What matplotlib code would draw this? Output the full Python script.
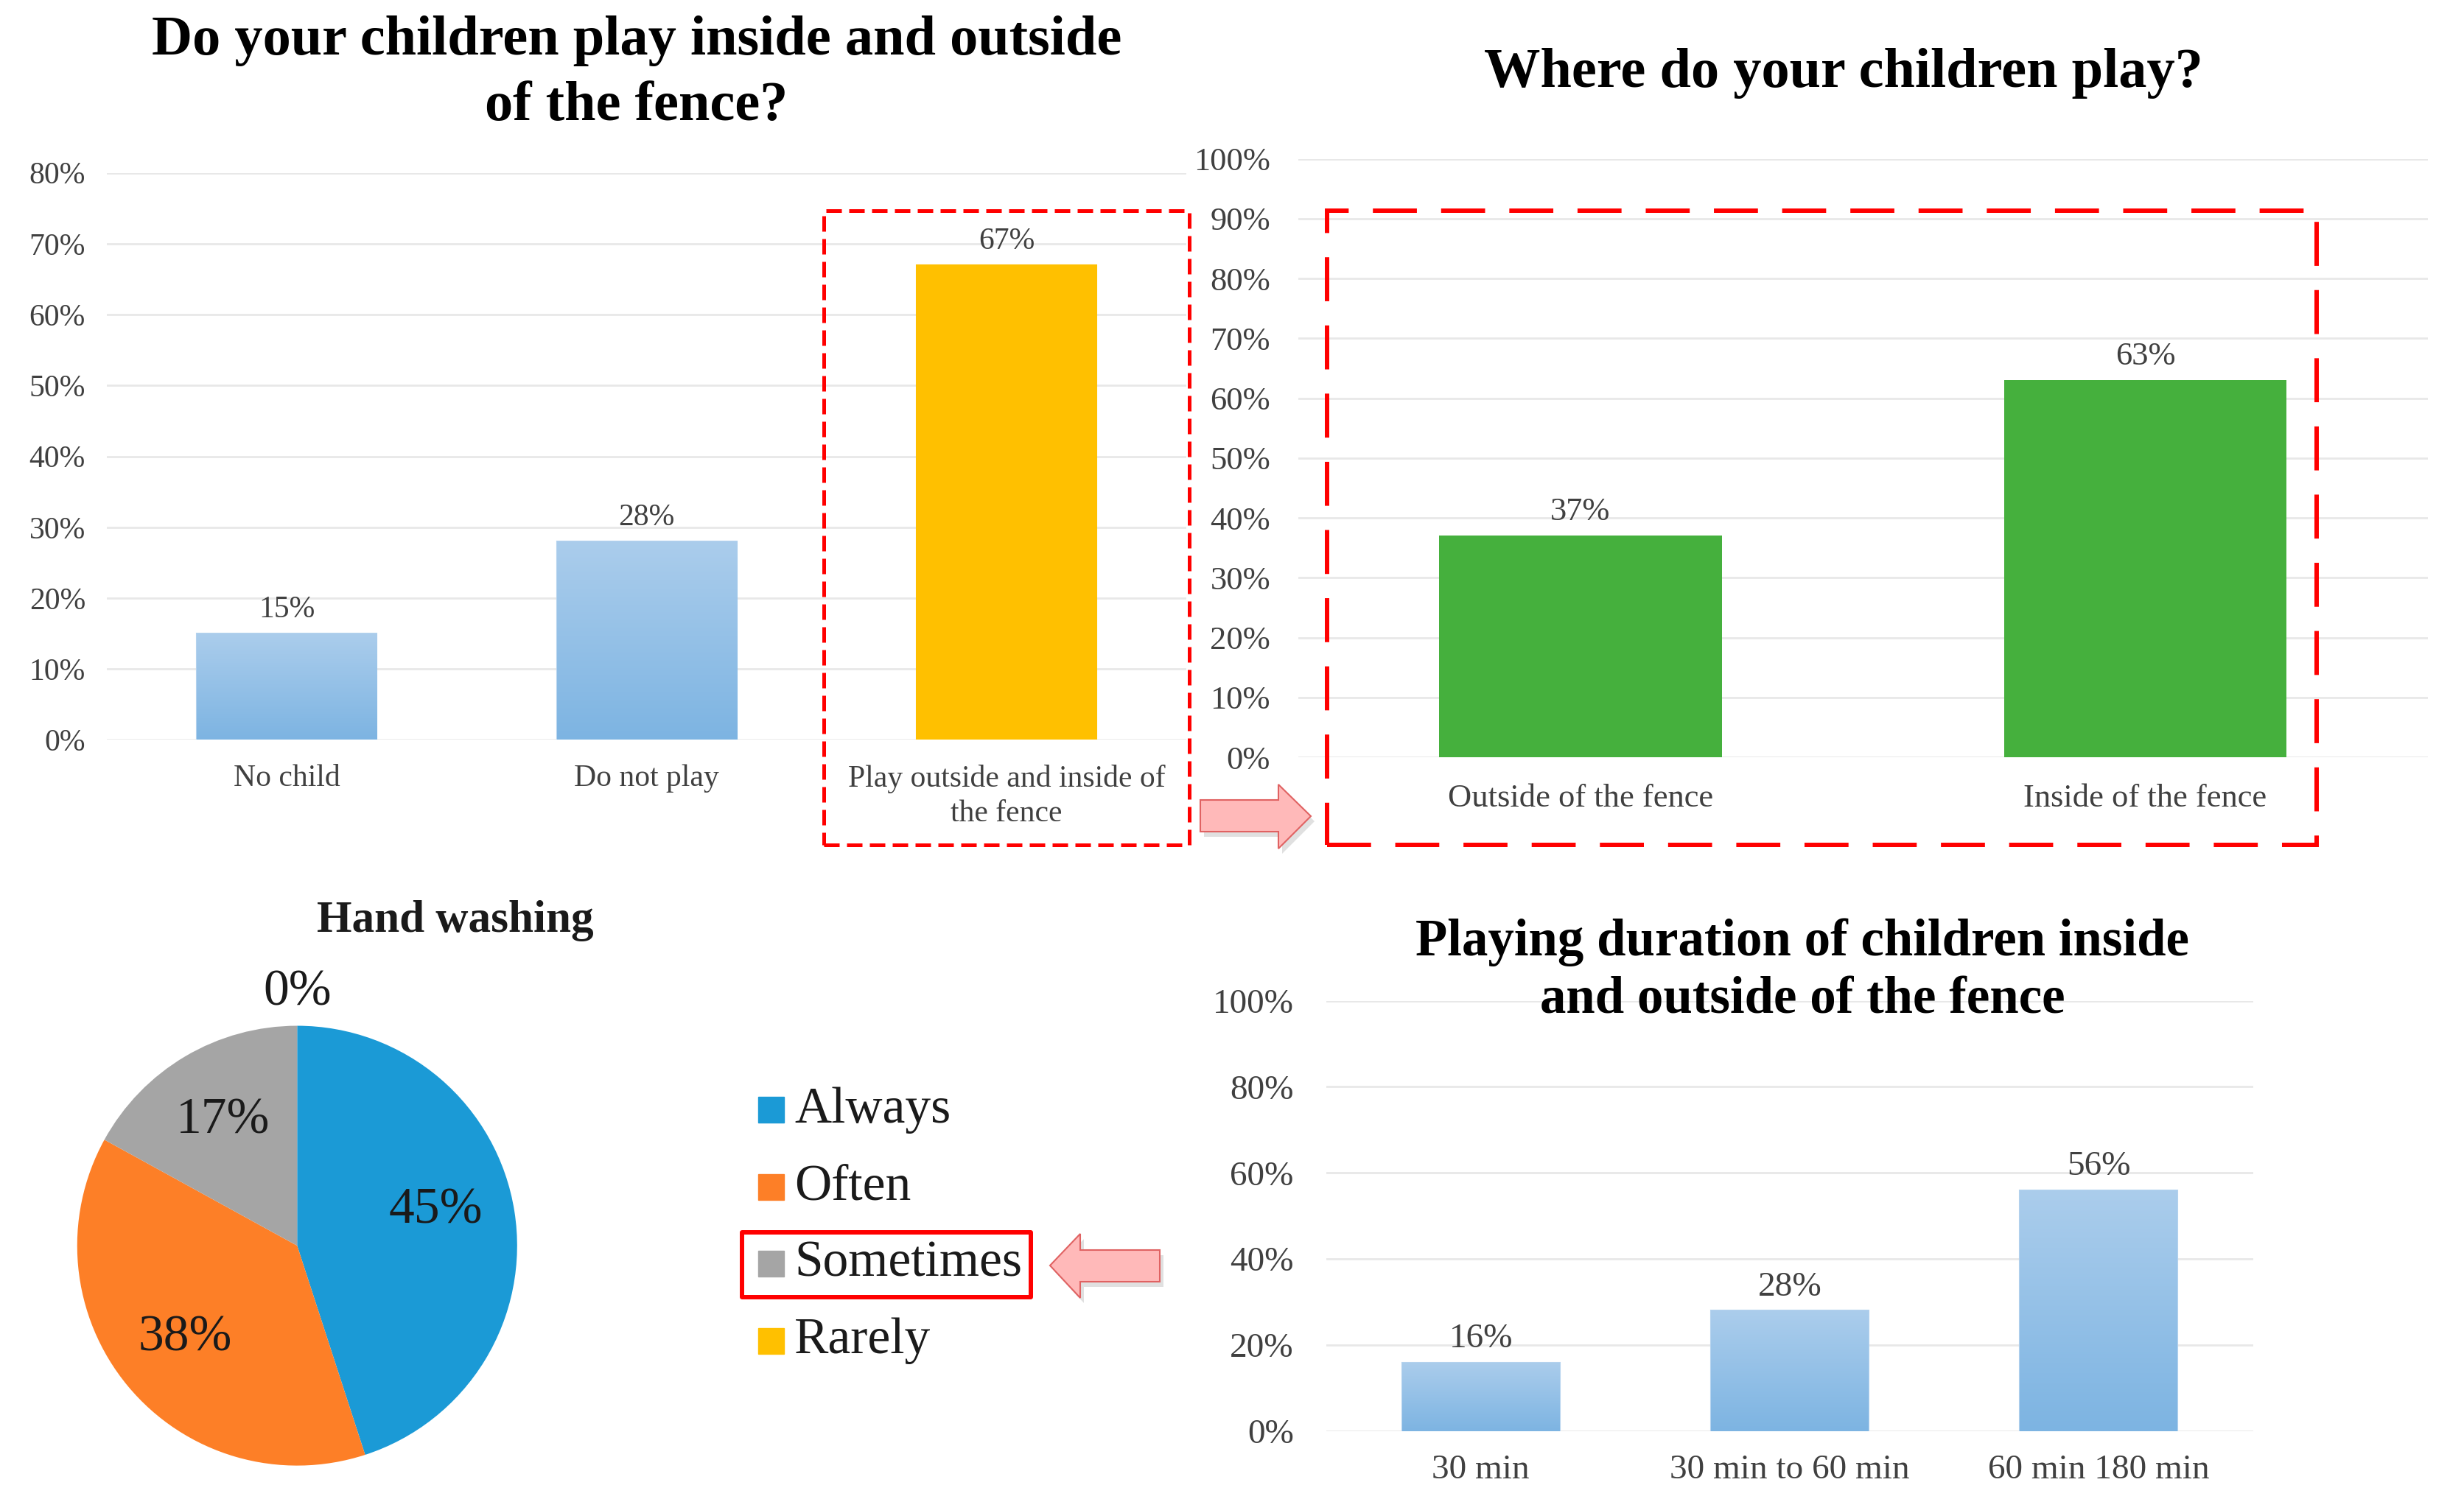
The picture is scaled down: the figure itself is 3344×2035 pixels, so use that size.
import numpy as np
import matplotlib.pyplot as plt
from matplotlib.patches import Rectangle, Polygon
from matplotlib.colors import LinearSegmentedColormap
from matplotlib.ticker import PercentFormatter

plt.rcParams['font.family'] = ['Liberation Serif', 'DejaVu Serif']

# data
fence_cats = ["No child", "Do not play", "Play outside and inside of\nthe fence"]
fence_vals = [15, 28, 67]
where_cats = ["Outside of the fence", "Inside of the fence"]
where_vals = [37, 63]
wash_labels = ["Always", "Often", "Sometimes", "Rarely"]
wash_vals = [45, 38, 17, 0]
dur_cats = ["30 min", "30 min to 60 min", "60 min 180 min"]
dur_vals = [16, 28, 56]

blue_grad = LinearSegmentedColormap.from_list('bg', ['#7db4e2', '#abcdec'])
wash_colors = ['#1b9ad6', '#fd7f27', '#a5a5a5', '#ffc000']

W, H = 3344, 2035
fig = plt.figure(figsize=(W / 100, H / 100), dpi=100)


def fx(px):
    return px / W


def fy(py):
    return 1 - py / H


def style(ax, ymax, step, fs, ypad, xpad):
    ax.set_ylim(0, ymax)
    ax.set_yticks(np.arange(0, ymax + 1, step))
    ax.yaxis.set_major_formatter(PercentFormatter(decimals=0))
    ax.grid(axis='y', color='#e8e8e8', lw=2)
    ax.set_axisbelow(True)
    for s in ax.spines.values():
        s.set_visible(False)
    ax.tick_params(length=0, labelsize=fs, labelcolor='#404040')
    ax.tick_params(axis='y', pad=ypad)
    ax.tick_params(axis='x', pad=xpad)


def grad_bars(ax, bars):
    grad = np.linspace(0, 1, 256).reshape(-1, 1)
    for b in bars:
        x, y = b.get_x(), b.get_y()
        w, h = b.get_width(), b.get_height()
        im = ax.imshow(grad, extent=(x, x + w, y, y + h), origin='lower',
                       cmap=blue_grad, aspect='auto', zorder=2)
        im.set_clip_path(b)
        b.set_facecolor('none')


def labels(ax, bars, vals, fs, off):
    for b, v in zip(bars, vals):
        ax.annotate(f"{v}%", (b.get_x() + b.get_width() / 2, b.get_height()),
                    xytext=(0, off), textcoords='offset points',
                    ha='center', va='center', fontsize=fs, color='#404040')


# top left
ax1 = fig.add_axes([0.0434, 0.5064, 0.4381, 0.3783])
x1 = np.arange(len(fence_cats))
b1 = ax1.bar(x1, fence_vals, width=0.5, color=['#9dc3e6', '#9dc3e6', '#ffc000'],
             edgecolor=['#b4d2ee', '#b4d2ee', '#ffc000'], lw=1.5, zorder=2)
grad_bars(ax1, list(b1)[:2])
labels(ax1, b1, fence_vals, 30, 23)
ax1.set_xticks(x1, fence_cats, linespacing=1.3)
style(ax1, 80, 10, 30, 21, 24)
ax1.set_xlim(-0.5, 2.5)
fig.text(fx(864), fy(100), "Do your children play inside and outside\nof the fence?",
         ha='center', va='center', fontsize=55, fontweight='bold', linespacing=1.38)

# top right
ax2 = fig.add_axes([0.5268, 0.4948, 0.4585, 0.3993])
x2 = np.arange(len(where_cats))
b2 = ax2.bar(x2, where_vals, width=0.5, color='#45b03d', zorder=2)
labels(ax2, b2, where_vals, 32, 23)
ax2.set_xticks(x2, where_cats)
style(ax2, 100, 10, 32, 27, 26)
ax2.set_xlim(-0.5, 1.5)
fig.text(fx(2502), fy(100), "Where do your children play?",
         ha='center', va='center', fontsize=55, fontweight='bold')

# bottom right
ax4 = fig.add_axes([0.5383, 0.0452, 0.3762, 0.2872])
x4 = np.arange(len(dur_cats))
b4 = ax4.bar(x4, dur_vals, width=0.51, color='#9dc3e6', edgecolor='#b4d2ee', lw=1.5, zorder=2)
grad_bars(ax4, b4)
labels(ax4, b4, dur_vals, 34, 23)
ax4.set_xticks(x4, dur_cats)
style(ax4, 100, 20, 34, 32, 23)
ax4.set_xlim(-0.5, 2.5)
fig.text(fx(2446), fy(1318), "Playing duration of children inside\nand outside of the fence",
         ha='center', va='center', fontsize=51, fontweight='bold', linespacing=1.27)

# pie
ax3 = fig.add_axes([0.0313, 0.0223, 0.1786, 0.2934])
wedges, _, autotexts = ax3.pie(wash_vals, colors=wash_colors, startangle=90, counterclock=False,
                               autopct=lambda p: f"{p:.0f}%", pctdistance=0.66,
                               textprops=dict(fontsize=50, color='#1a1a1a'))
for t, v in zip(autotexts, wash_vals):
    if v == 0:
        t.set_position((0, 1.15))
    elif v == 45:
        t.set_position((0.63, 0.16))
ax3.set_xlim(-1, 1)
ax3.set_ylim(-1, 1)
fig.text(fx(618), fy(1250), "Hand washing", ha='center', va='center',
         fontsize=44, fontweight='bold', color='#1a1a1a')

# legend
for i, (lab, c) in enumerate(zip(wash_labels, wash_colors)):
    yc = 1507 + i * 104.5
    fig.patches.append(Rectangle((fx(1029), fy(yc + 17)), fx(35), 35 / H, color=c,
                                 transform=fig.transFigure))
    fig.text(fx(1078), fy(yc), lab, ha='left', va='center', fontsize=50, color='#1a1a1a')

# highlight box around "Sometimes"
fig.patches.append(Rectangle((fx(1007), fy(1761)), fx(1399 - 1007), (1761 - 1673) / H,
                             fill=False, ec='#ff0000', lw=4.3, joinstyle='round',
                             transform=fig.transFigure))

# dashed boxes
fig.patches.append(Rectangle((fx(1118), fy(1147)), fx(1614 - 1118), (1147 - 286) / H,
                             fill=False, ec='#ff0000', lw=3.6, ls=(0, (4.2, 2)),
                             transform=fig.transFigure))
fig.patches.append(Rectangle((fx(1801), fy(1147)), fx(3144 - 1801), (1147 - 286) / H,
                             fill=False, ec='#ff0000', lw=4.3, ls=(0, (10, 5.5)),
                             transform=fig.transFigure))


def arrow(pts):
    sh = [(fx(x + 5), fy(y + 7)) for x, y in pts]
    fig.patches.append(Polygon(sh, closed=True, fc='#000000', alpha=0.12, ec='none',
                               transform=fig.transFigure))
    fig.patches.append(Polygon([(fx(x), fy(y)) for x, y in pts], closed=True,
                               fc='#ffb9b9', ec='#e06262', lw=1.5,
                               transform=fig.transFigure))


# right arrow
arrow([(1629, 1086), (1735, 1086), (1735, 1065), (1779, 1108), (1735, 1152),
       (1735, 1129), (1629, 1129)])
# left arrow
arrow([(1574, 1697), (1466, 1697), (1466, 1675), (1425, 1718), (1466, 1762),
       (1466, 1740), (1574, 1740)])

fig.savefig('out.png', dpi=100)
